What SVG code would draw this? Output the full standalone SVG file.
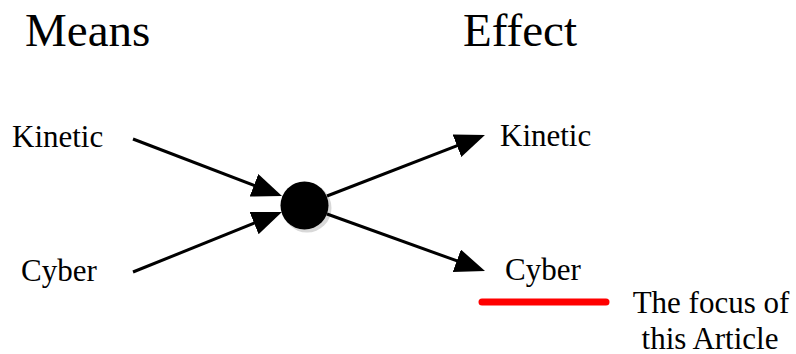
<svg xmlns="http://www.w3.org/2000/svg" width="796" height="354" viewBox="0 0 796 354">
<style>
text{font-family:"Liberation Serif","Times New Roman",serif;fill:#000}
.h{font-size:47px}
.t{font-size:31px}
.c{stroke:#000;stroke-width:3;fill:none}
</style>
<defs>
<marker id="ah" markerUnits="userSpaceOnUse" markerWidth="32" markerHeight="26" viewBox="0 0 32 26" refX="10" refY="12" orient="auto">
<path d="M0,0 L30,12 L0,24 z" fill="#000"/>
</marker>
<filter id="bl" x="-20%" y="-20%" width="140%" height="140%"><feGaussianBlur stdDeviation="0.6"/></filter>
</defs>
<rect width="796" height="354" fill="#fff"/>
<g id="title-means"><text class="h" x="25" y="46">Means</text></g>
<g id="title-effect"><text class="h" x="463" y="46">Effect</text></g>
<g id="means-kinetic"><text class="t" x="12" y="147">Kinetic</text></g>
<g id="means-cyber"><text class="t" x="21" y="281">Cyber</text></g>
<g id="effect-kinetic"><text class="t" x="500" y="146">Kinetic</text></g>
<g id="effect-cyber"><text class="t" x="505" y="280">Cyber</text></g>
<g id="hub">
<circle cx="307" cy="208" r="24.5" fill="#d8d8d8" filter="url(#bl)"/>
<circle cx="304.5" cy="205.5" r="24" fill="#000"/>
</g>
<g id="connectors">
<line class="c" x1="133" y1="139" x2="263.3" y2="188.9" marker-end="url(#ah)"/>
<line class="c" x1="133" y1="272" x2="263.4" y2="219.5" marker-end="url(#ah)"/>
<line class="c" x1="327" y1="196" x2="466.3" y2="142.2" marker-end="url(#ah)"/>
<line class="c" x1="327" y1="214" x2="466.2" y2="264.2" marker-end="url(#ah)"/>
</g>
<g id="focus">
<line x1="482" y1="302" x2="606" y2="302" stroke="#f00" stroke-width="7" stroke-linecap="round"/>
<text class="t" x="711" y="313" text-anchor="middle">The focus of</text>
<text class="t" x="710" y="349" text-anchor="middle">this Article</text>
</g>
</svg>
